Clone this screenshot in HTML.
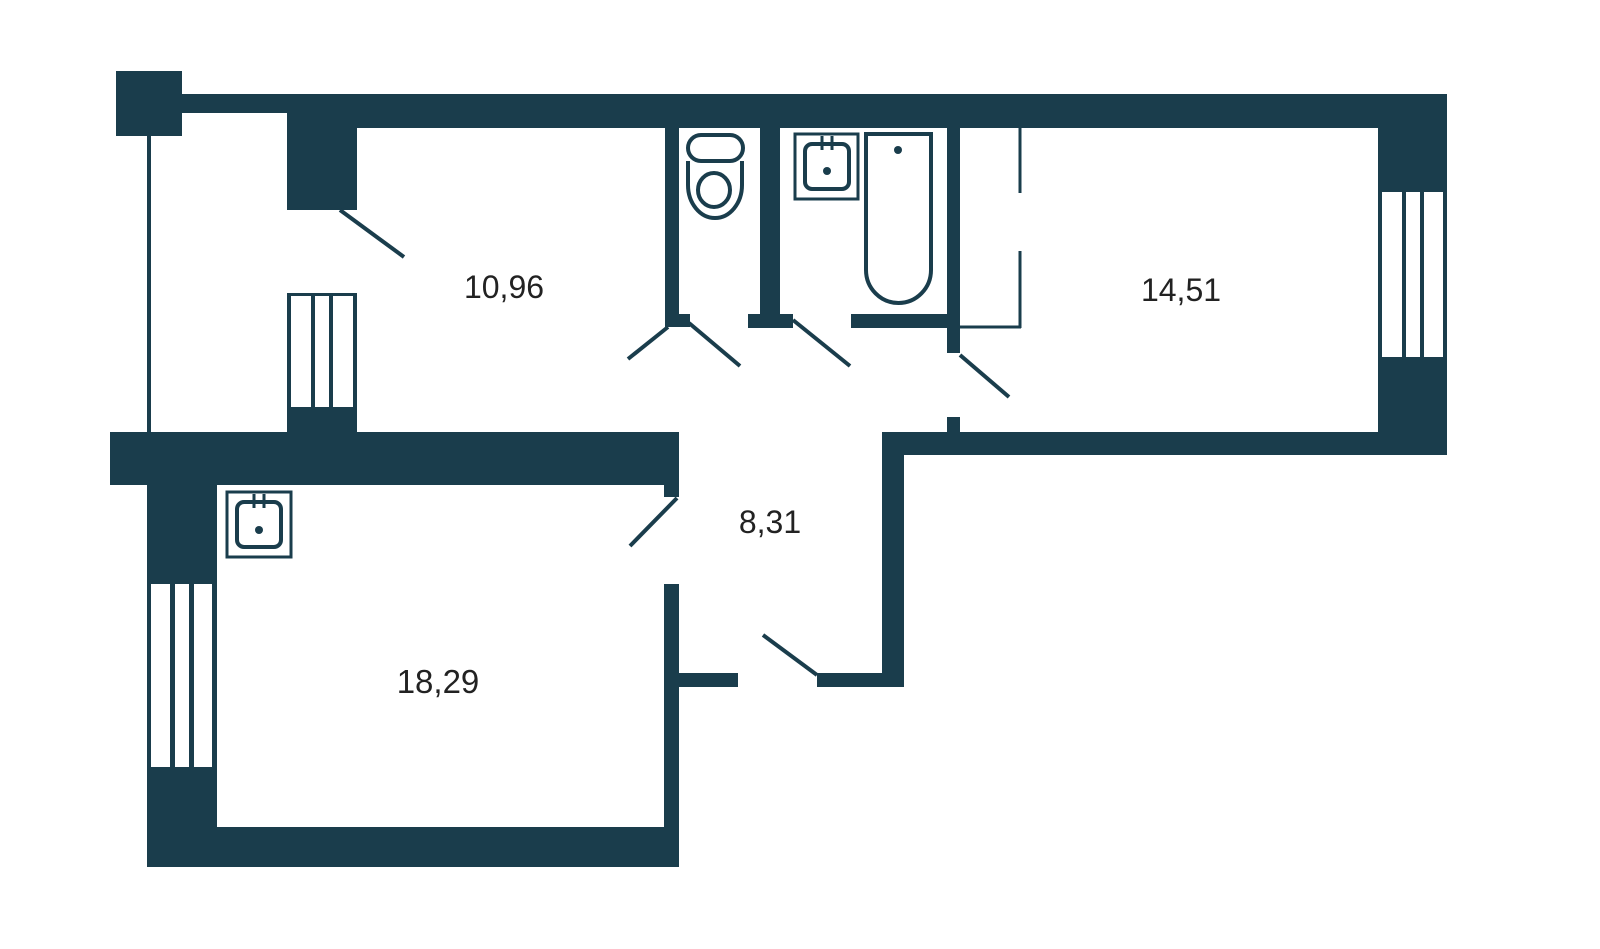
<!DOCTYPE html>
<html><head><style>html,body{margin:0;padding:0;background:#fff}svg{display:block}</style></head>
<body>
<svg width="1600" height="949" viewBox="0 0 1600 949" xmlns="http://www.w3.org/2000/svg">
<g fill="#1a3d4c">
<!-- top-left square -->
<rect x="116" y="71" width="66" height="65"/>
<!-- top wall -->
<rect x="182" y="94" width="1265" height="19"/>
<rect x="287" y="94" width="1160" height="34"/>
<!-- pillar -->
<rect x="287" y="94" width="70" height="116"/>
<!-- right wall -->
<rect x="1378" y="94" width="69" height="361"/>
<!-- bottom wall of 14.51 -->
<rect x="882" y="432" width="565" height="23"/>
<rect x="947" y="417" width="13" height="15"/>
<!-- mid wall -->
<rect x="110" y="432" width="569" height="53"/>
<rect x="664" y="485" width="15" height="12"/>
<!-- radiator dark base -->
<rect x="287" y="293" width="70" height="139"/>
<!-- wall between 10.96 and WC -->
<rect x="665" y="126" width="14" height="201"/>
<rect x="665" y="314" width="25" height="13"/>
<!-- WC/bath wall -->
<rect x="760" y="126" width="20" height="202"/>
<rect x="748" y="314" width="45" height="14"/>
<!-- bath bottom wall -->
<rect x="851" y="314" width="109" height="14"/>
<!-- bath/room wall -->
<rect x="947" y="126" width="13" height="227"/>
<!-- kitchen left wall -->
<rect x="147" y="485" width="70" height="382"/>
<!-- kitchen bottom wall -->
<rect x="147" y="827" width="532" height="40"/>
<!-- kitchen right wall -->
<rect x="664" y="584" width="15" height="283"/>
<rect x="664" y="673" width="74" height="14"/>
<!-- hall right wall -->
<rect x="882" y="432" width="22" height="255"/>
<rect x="817" y="673" width="87" height="14"/>
</g>
<!-- thin line left -->
<rect x="147" y="136" width="4" height="296" fill="#1a3d4c"/>
<!-- radiator -->
<rect x="291" y="296" width="62" height="111" fill="#fff"/>
<rect x="311" y="296" width="4" height="111" fill="#1a3d4c"/>
<rect x="329" y="296" width="4" height="111" fill="#1a3d4c"/>
<!-- right window -->
<rect x="1382" y="192" width="61" height="165" fill="#fff"/>
<rect x="1402" y="192" width="4" height="165" fill="#1a3d4c"/>
<rect x="1420" y="192" width="4" height="165" fill="#1a3d4c"/>
<!-- left window -->
<rect x="151" y="584" width="61" height="183" fill="#fff"/>
<rect x="170" y="584" width="5" height="183" fill="#1a3d4c"/>
<rect x="189" y="584" width="5" height="183" fill="#1a3d4c"/>
<g stroke="#1a3d4c" stroke-width="4" fill="none">
<!-- door leaves -->
<line x1="340" y1="210" x2="404" y2="257"/>
<line x1="668" y1="327" x2="628" y2="359"/>
<line x1="689" y1="323" x2="740" y2="366"/>
<line x1="793" y1="320" x2="850" y2="366"/>
<line x1="960" y1="355" x2="1009" y2="397"/>
<line x1="677" y1="498" x2="630" y2="546"/>
<line x1="763" y1="635" x2="817" y2="675"/>
<!-- thin partition -->
<line x1="1020" y1="126" x2="1020" y2="193" stroke-width="3"/>
<line x1="1020" y1="251" x2="1020" y2="328" stroke-width="3"/>
<line x1="960" y1="327" x2="1021" y2="327" stroke-width="3"/>
<!-- toilet -->
<rect x="688" y="135" width="55" height="26" rx="13"/>
<path d="M688 161 L688 185 A27 33 0 0 0 742 185 L742 161"/>
<ellipse cx="714" cy="190" rx="16" ry="17"/>
<!-- bath sink -->
<rect x="795" y="134" width="63" height="65" stroke-width="3"/>
<rect x="805" y="144" width="44" height="45" rx="7"/>
<line x1="822" y1="136" x2="822" y2="150" stroke-width="3"/>
<line x1="832" y1="136" x2="832" y2="150" stroke-width="3"/>
<!-- bathtub -->
<path d="M866 134 L931 134 L931 270 A32.5 33 0 0 1 866 270 Z"/>
<!-- kitchen sink -->
<rect x="227" y="492" width="64" height="65" stroke-width="3"/>
<rect x="237" y="502" width="44" height="45" rx="7"/>
<line x1="254" y1="494" x2="254" y2="508" stroke-width="3"/>
<line x1="264" y1="494" x2="264" y2="508" stroke-width="3"/>
</g>
<circle cx="827" cy="171" r="4" fill="#1a3d4c"/>
<circle cx="898" cy="150" r="4" fill="#1a3d4c"/>
<circle cx="259" cy="530" r="4" fill="#1a3d4c"/>
<g font-family="Liberation Sans, sans-serif" font-size="32" fill="#222" text-anchor="middle">
<text x="504" y="298">10,96</text>
<text x="1181" y="301">14,51</text>
<text x="770" y="533">8,31</text>
<text x="438" y="693" font-size="33">18,29</text>
</g>
</svg>
</body></html>
